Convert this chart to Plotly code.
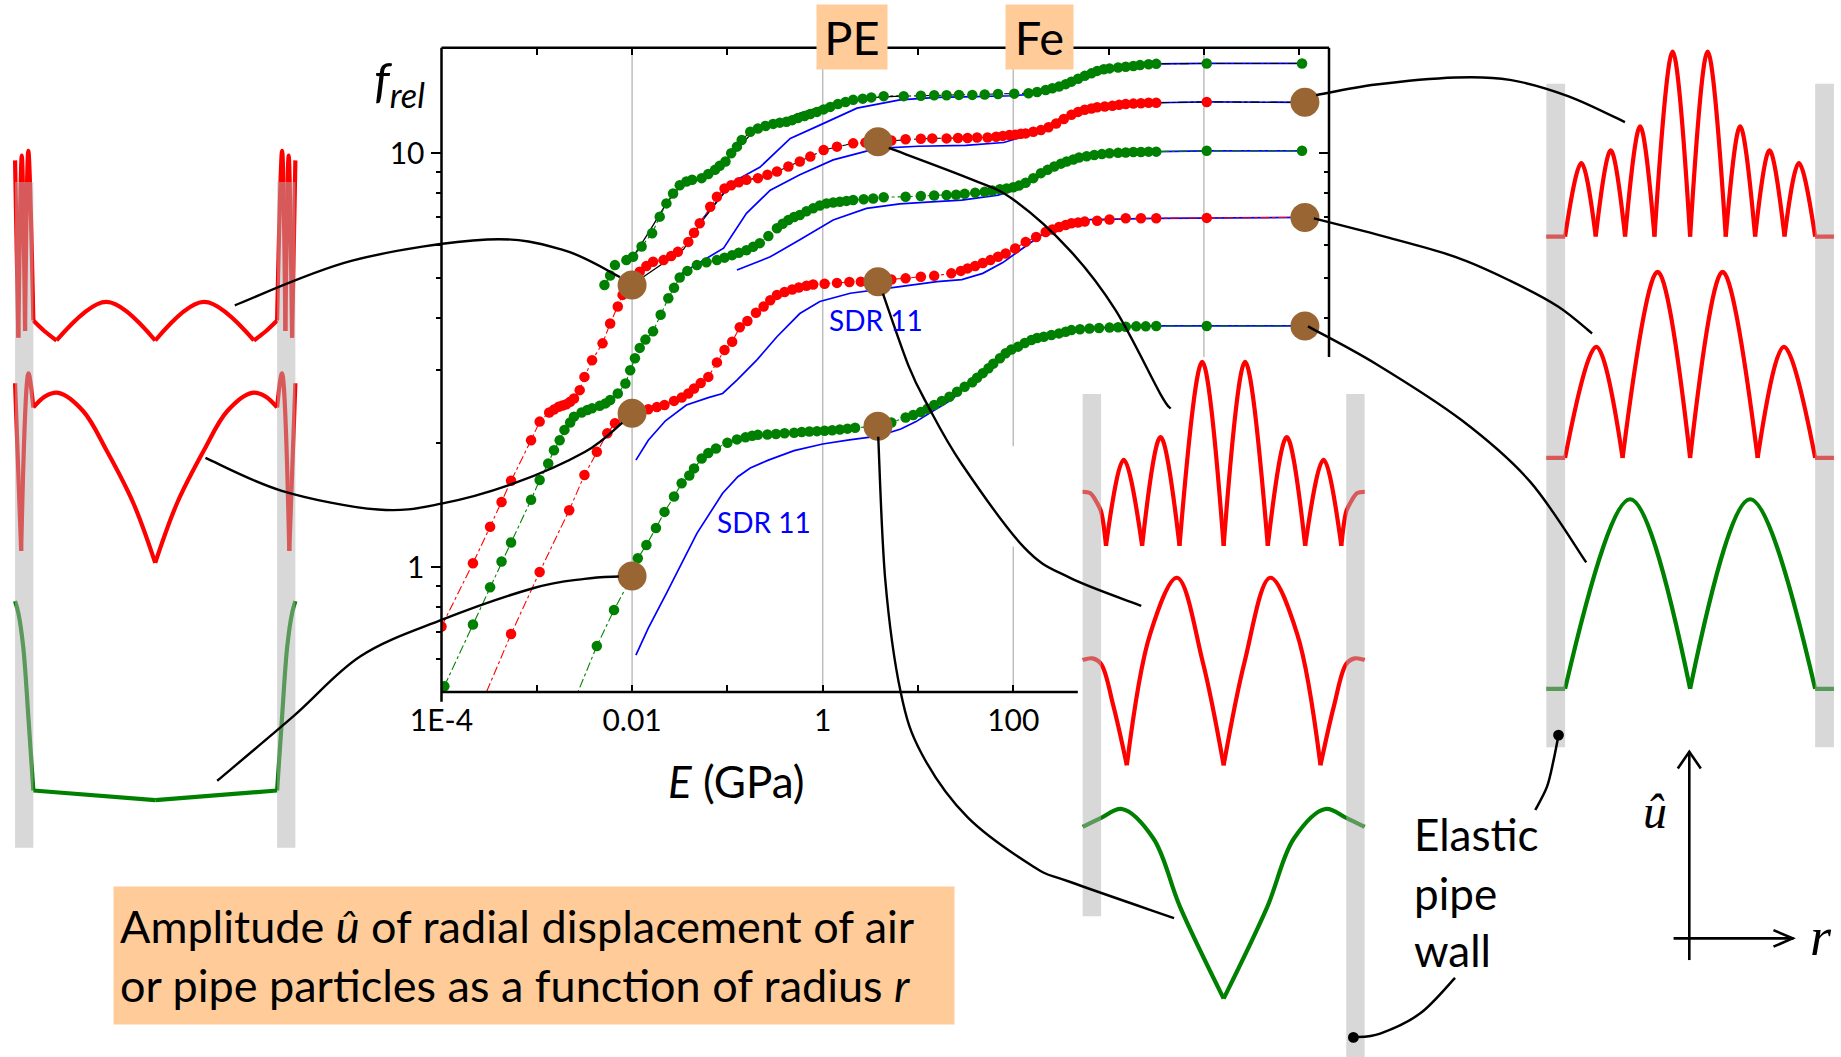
import math
import plotly.graph_objects as go

W, H = 1841, 1057
S = W / 1568.0            # reference preview px -> full px


def PX(xd):               # preview x -> paper
    return xd * S / W


def PY(yd):               # preview y -> paper
    return 1.0 - yd * S / H


def FX(xf):               # full px -> paper
    return xf / W


def FY(yf):
    return 1.0 - yf / H


def clamp(v):
    return min(1.0, max(0.0, v))


# ------------------------------------------------------------------ data
# main chart, pairs are (log10 E [GPa], log10 f_rel)
green_A = [(-2.62, -0.33), (-2.37, -0.19), (-2.19, -0.103), (-2.00, -0.021), (-1.94, 0.022), (-1.85, 0.054),
           (-1.75, 0.095), (-1.66, 0.134), (-1.56, 0.171), (-1.48, 0.203), (-1.40, 0.222), (-1.35, 0.239),
           (-1.27, 0.263), (-1.20, 0.276), (-1.12, 0.287), (-1.00, 0.301), (-0.90, 0.309), (-0.81, 0.314),
           (-0.74, 0.318), (-0.68, 0.320), (-0.58, 0.321), (-0.49, 0.322), (-0.40, 0.324), (-0.30, 0.325),
           (-0.22, 0.327), (-0.14, 0.328), (-0.06, 0.329), (0.02, 0.330), (0.10, 0.331), (0.18, 0.333),
           (0.26, 0.335), (0.34, 0.337), (0.58, 0.341), (0.72, 0.350), (0.87, 0.362), (0.95, 0.368),
           (1.03, 0.375), (1.10, 0.383), (1.17, 0.392), (1.25, 0.402), (1.33, 0.412), (1.41, 0.424),
           (1.49, 0.436), (1.57, 0.447), (1.62, 0.458), (1.68, 0.469), (1.74, 0.481), (1.79, 0.492),
           (1.86, 0.505), (1.92, 0.517), (1.98, 0.526), (2.05, 0.533), (2.12, 0.542), (2.19, 0.549),
           (2.25, 0.554), (2.32, 0.557), (2.40, 0.561), (2.48, 0.565), (2.55, 0.569), (2.61, 0.573),
           (2.70, 0.575), (2.80, 0.577), (2.90, 0.578), (3.01, 0.579), (3.10, 0.580), (3.18, 0.581),
           (3.29, 0.582), (3.39, 0.582), (3.50, 0.583), (4.03, 0.583), (5.03, 0.583)]

red_B = [(-3.60, -0.34), (-3.27, -0.161), (-2.97, -0.011), (-2.66, 0.138), (-2.50, 0.223), (-2.37, 0.279),
         (-2.26, 0.324), (-2.18, 0.348), (-2.09, 0.362), (-2.00, 0.372), (-1.92, 0.377), (-1.83, 0.382),
         (-1.74, 0.387), (-1.66, 0.392), (-1.56, 0.402), (-1.48, 0.410), (-1.41, 0.420), (-1.35, 0.432),
         (-1.28, 0.445), (-1.20, 0.460), (-1.11, 0.495), (-1.03, 0.525), (-0.95, 0.545), (-0.87, 0.580),
         (-0.79, 0.595), (-0.70, 0.615), (-0.62, 0.630), (-0.55, 0.645), (-0.48, 0.658), (-0.40, 0.665),
         (-0.32, 0.671), (-0.25, 0.676), (-0.17, 0.680), (-0.10, 0.683), (0.02, 0.685), (0.15, 0.687),
         (0.28, 0.689), (0.40, 0.690), (0.58, 0.693), (0.72, 0.695), (0.87, 0.698), (1.03, 0.702),
         (1.17, 0.704), (1.35, 0.710), (1.45, 0.716), (1.52, 0.722), (1.60, 0.728), (1.68, 0.735),
         (1.76, 0.742), (1.84, 0.750), (1.92, 0.758), (2.02, 0.770), (2.13, 0.786), (2.24, 0.798),
         (2.34, 0.810), (2.41, 0.816), (2.48, 0.822), (2.55, 0.827), (2.61, 0.831), (2.68, 0.833),
         (2.75, 0.835), (2.88, 0.837), (3.01, 0.840), (3.18, 0.843), (3.34, 0.843), (3.50, 0.843),
         (4.03, 0.844), (5.03, 0.845)]

green_C = [(-3.97, -0.287), (-3.67, -0.138), (-3.49, -0.048), (-3.37, 0.014), (-3.27, 0.060), (-3.06, 0.163),
           (-2.97, 0.211), (-2.88, 0.251), (-2.82, 0.283), (-2.76, 0.307), (-2.71, 0.332), (-2.65, 0.350),
           (-2.61, 0.364), (-2.53, 0.374), (-2.47, 0.380), (-2.42, 0.384), (-2.34, 0.390), (-2.28, 0.396),
           (-2.23, 0.404), (-2.15, 0.420), (-2.07, 0.444), (-2.02, 0.476), (-1.97, 0.505), (-1.92, 0.530),
           (-1.86, 0.550), (-1.78, 0.570), (-1.70, 0.610), (-1.62, 0.650), (-1.56, 0.675), (-1.50, 0.700),
           (-1.42, 0.716), (-1.32, 0.730), (-1.22, 0.737), (-1.11, 0.742), (-1.03, 0.748), (-0.95, 0.754),
           (-0.88, 0.760), (-0.80, 0.766), (-0.73, 0.774), (-0.66, 0.783), (-0.57, 0.800), (-0.48, 0.819),
           (-0.42, 0.830), (-0.36, 0.839), (-0.30, 0.846), (-0.24, 0.851), (-0.17, 0.860), (-0.10, 0.867),
           (-0.03, 0.874), (0.04, 0.879), (0.11, 0.881), (0.18, 0.883), (0.25, 0.885), (0.32, 0.887),
           (0.43, 0.889), (0.53, 0.891), (0.64, 0.894), (0.87, 0.895), (1.03, 0.897), (1.17, 0.898),
           (1.30, 0.899), (1.40, 0.900), (1.49, 0.902), (1.60, 0.905), (1.70, 0.907), (1.78, 0.910),
           (1.86, 0.913), (1.93, 0.915), (2.00, 0.918), (2.06, 0.922), (2.13, 0.929), (2.21, 0.940),
           (2.29, 0.952), (2.36, 0.960), (2.43, 0.968), (2.50, 0.975), (2.56, 0.980), (2.63, 0.985),
           (2.69, 0.990), (2.77, 0.993), (2.85, 0.996), (2.93, 0.998), (3.01, 1.000), (3.10, 1.001),
           (3.18, 1.002), (3.26, 1.003), (3.34, 1.003), (3.42, 1.004), (3.50, 1.004), (4.03, 1.006),
           (5.03, 1.006)]

red_D = [(-4.00, -0.143), (-3.67, 0.010), (-3.49, 0.098), (-3.37, 0.158), (-3.27, 0.209), (-3.06, 0.307),
         (-2.97, 0.352), (-2.87, 0.374), (-2.82, 0.381), (-2.77, 0.388), (-2.73, 0.391), (-2.69, 0.394),
         (-2.65, 0.400), (-2.61, 0.408), (-2.55, 0.428), (-2.50, 0.460), (-2.42, 0.500), (-2.31, 0.541),
         (-2.23, 0.589), (-2.15, 0.630), (-2.10, 0.658), (-2.05, 0.672), (-2.00, 0.682), (-1.92, 0.714),
         (-1.85, 0.728), (-1.78, 0.738), (-1.67, 0.742), (-1.59, 0.752), (-1.52, 0.762), (-1.41, 0.786),
         (-1.35, 0.808), (-1.29, 0.831), (-1.18, 0.871), (-1.11, 0.895), (-1.03, 0.915), (-0.96, 0.923),
         (-0.88, 0.930), (-0.80, 0.936), (-0.68, 0.940), (-0.58, 0.948), (-0.48, 0.956), (-0.36, 0.968),
         (-0.24, 0.980), (-0.13, 0.992), (0.01, 1.008), (0.15, 1.016), (0.32, 1.024), (0.45, 1.026),
         (0.57, 1.028), (0.72, 1.031), (0.87, 1.034), (1.03, 1.035), (1.15, 1.036), (1.30, 1.036),
         (1.42, 1.037), (1.52, 1.037), (1.62, 1.038), (1.73, 1.038), (1.82, 1.040), (1.89, 1.042),
         (1.96, 1.044), (2.02, 1.045), (2.08, 1.047), (2.13, 1.048), (2.21, 1.052), (2.29, 1.056),
         (2.37, 1.063), (2.45, 1.072), (2.53, 1.083), (2.61, 1.093), (2.68, 1.100), (2.75, 1.105),
         (2.82, 1.108), (2.88, 1.111), (2.96, 1.113), (3.04, 1.115), (3.11, 1.117), (3.18, 1.119),
         (3.26, 1.120), (3.34, 1.121), (3.42, 1.122), (3.50, 1.122), (4.03, 1.124), (5.03, 1.123)]

green_E = [(-2.29, 0.682), (-2.23, 0.705), (-2.18, 0.730), (-2.06, 0.742), (-1.99, 0.750), (-1.90, 0.775),
           (-1.79, 0.807), (-1.71, 0.847), (-1.64, 0.879), (-1.57, 0.903), (-1.50, 0.923), (-1.43, 0.932),
           (-1.37, 0.936), (-1.27, 0.940), (-1.20, 0.950), (-1.13, 0.960), (-1.08, 0.970), (-1.02, 0.980),
           (-0.96, 1.000), (-0.90, 1.016), (-0.85, 1.032), (-0.76, 1.052), (-0.68, 1.060), (-0.60, 1.066),
           (-0.52, 1.071), (-0.45, 1.074), (-0.38, 1.076), (-0.32, 1.080), (-0.26, 1.085), (-0.19, 1.090),
           (-0.13, 1.095), (-0.06, 1.100), (0.01, 1.106), (0.08, 1.112), (0.16, 1.119), (0.24, 1.124),
           (0.32, 1.129), (0.42, 1.132), (0.51, 1.135), (0.64, 1.138), (0.85, 1.138), (1.03, 1.139),
           (1.17, 1.140), (1.30, 1.140), (1.43, 1.141), (1.57, 1.141), (1.70, 1.142), (1.84, 1.143),
           (2.01, 1.144), (2.16, 1.145), (2.25, 1.148), (2.34, 1.153), (2.41, 1.157), (2.48, 1.161),
           (2.55, 1.167), (2.61, 1.173), (2.68, 1.180), (2.75, 1.187), (2.82, 1.193), (2.88, 1.199),
           (2.95, 1.203), (3.01, 1.205), (3.10, 1.207), (3.18, 1.209), (3.26, 1.211), (3.33, 1.213),
           (3.42, 1.215), (3.50, 1.216), (4.03, 1.217), (5.03, 1.217)]

# SDR 11 curves (blue)
blue_A = [(-1.96, -0.212), (-1.83, -0.147), (-1.64, -0.063), (-1.48, 0.010), (-1.32, 0.082), (-1.05, 0.179),
          (-0.89, 0.219), (-0.76, 0.240), (-0.57, 0.259), (-0.30, 0.282), (0.00, 0.298), (0.28, 0.308),
          (0.58, 0.317), (0.82, 0.334), (0.98, 0.352), (1.14, 0.375), (1.36, 0.406), (1.54, 0.448),
          (1.73, 0.475), (1.89, 0.509), (2.05, 0.533), (2.27, 0.557), (2.53, 0.569), (2.80, 0.577),
          (3.20, 0.582), (3.50, 0.583), (4.03, 0.583), (5.03, 0.583)]
blue_B = [(-1.96, 0.259), (-1.83, 0.307), (-1.65, 0.354), (-1.43, 0.392), (-1.20, 0.410), (-1.05, 0.420),
          (-0.90, 0.452), (-0.69, 0.501), (-0.48, 0.557), (-0.24, 0.613), (-0.03, 0.642), (0.29, 0.662),
          (0.81, 0.678), (1.20, 0.690), (1.46, 0.695), (1.68, 0.710), (1.89, 0.736), (2.10, 0.770),
          (2.32, 0.807), (2.53, 0.828), (2.80, 0.840), (3.50, 0.843), (4.03, 0.844), (5.03, 0.845)]
blue_C = [(-0.90, 0.718), (-0.55, 0.750), (-0.24, 0.791), (0.11, 0.839), (0.46, 0.867), (0.81, 0.878),
          (1.10, 0.882), (1.46, 0.887), (1.84, 0.899), (2.05, 0.913), (2.27, 0.943), (2.53, 0.975),
          (2.80, 0.993), (3.20, 1.002), (3.50, 1.004), (4.03, 1.006), (5.03, 1.006)]
blue_D = [(-1.48, 0.710), (-1.25, 0.742), (-1.04, 0.771), (-0.80, 0.855), (-0.55, 0.911), (-0.24, 0.948),
          (0.11, 0.984), (0.57, 1.012), (1.00, 1.017), (1.50, 1.019), (1.90, 1.026), (2.10, 1.040),
          (2.30, 1.060), (2.50, 1.085), (2.70, 1.103), (3.00, 1.115), (3.50, 1.122), (4.03, 1.124),
          (5.03, 1.123)]
blue_E = [(-1.27, 0.839), (-0.94, 0.931), (-0.66, 0.966), (-0.34, 1.036), (-0.03, 1.068), (0.36, 1.109),
          (0.81, 1.129), (1.20, 1.135), (1.60, 1.137), (2.00, 1.139), (2.20, 1.143), (2.40, 1.155),
          (2.60, 1.172), (2.80, 1.190), (3.00, 1.203), (3.30, 1.212), (3.50, 1.216), (4.03, 1.217),
          (5.03, 1.217)]

# thin black solid tracks
black_E = [(-1.99, 0.750), (-1.83, 0.807), (-1.64, 0.879), (-1.50, 0.919), (-1.39, 0.928), (-1.25, 0.940),
           (-1.08, 0.968), (-0.94, 1.000), (-0.73, 1.052), (-0.52, 1.072), (-0.24, 1.097), (0.11, 1.121),
           (0.46, 1.134), (0.81, 1.138)]
black_D = [(-2.00, 0.682), (-1.88, 0.702), (-1.46, 0.768), (-1.25, 0.841), (-1.03, 0.907), (-0.90, 0.928),
           (-0.66, 0.943)]

# highlighted states (brown dots)
brown_logE = [-2.00, -2.00, -2.00, 0.58, 0.58, 0.58, 5.06, 5.06, 5.06]
brown_logF = [0.682, 0.372, -0.021, 1.028, 0.690, 0.341, 1.123, 0.845, 0.583]

x_tick_vals = [1e-4, 1e-3, 1e-2, 1e-1, 1, 10, 100]
x_tick_text = ['1E-4', ' ', '0.01', ' ', '1', ' ', '100']
x_top_ticks = [1e-3, 1e-2, 1e-1, 1, 10, 100, 1e3, 1e4, 1e5]
y_tick_vals = [1, 10]
y_tick_text = ['1', '10']
y_minor_vals = [0.6, 0.7, 0.8, 0.9, 2, 3, 4, 5, 6, 7, 8, 9]
y_right_minor = [4, 5, 6, 7, 8, 9]

# mode shapes |u(r)|: segments of (r / inner radius, normalised amplitude)
L1_red = [[(-1.15, 0.95), (-1.123, 0.015)], [(-1.123, 0.015), (-1.095, 0.975), (-1.068, 0.05)],
          [(-1.068, 0.05), (-1.041, 1.0), (-1.0, 0.105)], [(-1.0, 0.105), (-0.91, 0.05), (-0.81, 0.0)],
          [(-0.81, 0.0), (-0.40, 0.204), (0.0, 0.0)], [(0.0, 0.0), (0.40, 0.204), (0.81, 0.0)],
          [(0.81, 0.0), (0.91, 0.05), (1.0, 0.105)], [(1.0, 0.105), (1.041, 1.0), (1.068, 0.05)],
          [(1.068, 0.05), (1.095, 0.975), (1.123, 0.015)], [(1.123, 0.015), (1.15, 0.95)]]
L2_red = [[(-1.15, 0.948), (-1.10, 0.063)], [(-1.10, 0.063), (-1.04, 1.0), (-1.0, 0.82)],
          [(-1.0, 0.82), (-0.90, 0.88), (-0.794, 0.897), (-0.59, 0.80), (-0.40, 0.594), (-0.18, 0.316), (0.0, 0.0)],
          [(0.0, 0.0), (0.18, 0.316), (0.40, 0.594), (0.59, 0.80), (0.794, 0.897), (0.90, 0.88), (1.0, 0.82)],
          [(1.0, 0.82), (1.04, 1.0), (1.10, 0.063)], [(1.10, 0.063), (1.15, 0.948)]]
L3_green = [[(-1.15, 1.0), (-1.123, 0.94), (-1.083, 0.77), (-1.04, 0.41), (-1.0, 0.048)],
            [(-1.0, 0.048), (0.0, 0.0)], [(0.0, 0.0), (1.0, 0.048)],
            [(1.0, 0.048), (1.04, 0.41), (1.083, 0.77), (1.123, 0.94), (1.15, 1.0)]]
C1_red = [[(-1.15, 0.294), (-1.09, 0.287), (-1.035, 0.236), (-1.0, 0.186), (-0.96, 0.0)],
          [(-0.96, 0.0), (-0.815, 0.468), (-0.665, 0.0)], [(-0.665, 0.0), (-0.515, 0.592), (-0.36, 0.0)],
          [(-0.36, 0.0), (-0.175, 1.0), (0.0, 0.0)], [(0.0, 0.0), (0.175, 1.0), (0.36, 0.0)],
          [(0.36, 0.0), (0.515, 0.592), (0.665, 0.0)], [(0.665, 0.0), (0.815, 0.468), (0.96, 0.0)],
          [(0.96, 0.0), (1.0, 0.186), (1.035, 0.236), (1.09, 0.287), (1.15, 0.294)]]
C2_red = [[(-1.15, 0.561), (-1.07, 0.57), (-1.0, 0.54), (-0.90, 0.317), (-0.79, 0.0)],
          [(-0.79, 0.0), (-0.60, 0.70), (-0.38, 1.0), (-0.17, 0.55), (0.0, 0.0)],
          [(0.0, 0.0), (0.17, 0.55), (0.38, 1.0), (0.60, 0.70), (0.79, 0.0)],
          [(0.79, 0.0), (0.90, 0.317), (1.0, 0.54), (1.07, 0.57), (1.15, 0.561)]]
C3_green = [[(-1.15, 0.905), (-1.0, 0.953), (-0.83, 1.0), (-0.573, 0.844), (-0.355, 0.482), (0.0, 0.0)],
            [(0.0, 0.0), (0.355, 0.482), (0.573, 0.844), (0.83, 1.0), (1.0, 0.953), (1.15, 0.905)]]
R1_red = [[(-1.15, 0.0), (-1.0, 0.0)], [(-1.0, 0.0), (-0.87, 0.397), (-0.755, 0.0)],
          [(-0.755, 0.0), (-0.635, 0.466), (-0.52, 0.0)], [(-0.52, 0.0), (-0.40, 0.596), (-0.285, 0.0)],
          [(-0.285, 0.0), (-0.14, 1.0), (0.0, 0.0)], [(0.0, 0.0), (0.14, 1.0), (0.285, 0.0)],
          [(0.285, 0.0), (0.40, 0.596), (0.52, 0.0)], [(0.52, 0.0), (0.635, 0.466), (0.755, 0.0)],
          [(0.755, 0.0), (0.87, 0.397), (1.0, 0.0)], [(1.0, 0.0), (1.15, 0.0)]]
R2_red = [[(-1.15, 0.0), (-1.0, 0.0)], [(-1.0, 0.0), (-0.75, 0.597), (-0.54, 0.0)],
          [(-0.54, 0.0), (-0.26, 1.0), (0.0, 0.0)], [(0.0, 0.0), (0.26, 1.0), (0.54, 0.0)],
          [(0.54, 0.0), (0.75, 0.597), (1.0, 0.0)], [(1.0, 0.0), (1.15, 0.0)]]
R3_green = [[(-1.15, 0.0), (-1.0, 0.0)], [(-1.0, 0.0), (-0.48, 1.0), (0.0, 0.0)],
            [(0.0, 0.0), (0.48, 1.0), (1.0, 0.0)], [(1.0, 0.0), (1.15, 0.0)]]

# ------------------------------------------------------------------ styles / layout numbers
GREEN, RED, BLUE, BROWN = '#008000', '#FF0000', '#0000FF', '#996633'
PEACH = '#FFCC99'
X_LEFT, X_RIGHT, Y_TOP, Y_BOT = 441.5, 1329.0, 47.7, 692.0     # main frame, full px
LOGX = [-4.0, 5.313]
LOGY = [-0.301, 1.255]

fig = go.Figure()


def lin(pts):
    return [10 ** p[0] for p in pts], [10 ** p[1] for p in pts]


def add_line(pts, color, width=1.1, dash='dashdot'):
    x, y = lin(pts)
    fig.add_trace(go.Scatter(x=x, y=y, mode='lines', line=dict(color=color, width=width, dash=dash),
                             hoverinfo='skip', showlegend=False))


def add_dots(pts, color, size=10.5):
    x, y = lin(pts)
    fig.add_trace(go.Scatter(x=x, y=y, mode='markers', marker=dict(color=color, size=size, line=dict(width=0)),
                             hoverinfo='skip', showlegend=False))


for b in (blue_A, blue_B, blue_C, blue_D, blue_E):
    add_line(b, BLUE, width=1.7, dash='solid')
add_line(black_E, 'black', width=1.3, dash='solid')
add_line(black_D, 'black', width=1.3, dash='solid')

add_line(green_A, GREEN)
add_line(red_B, RED)
add_line(green_C, GREEN)
add_line([p for p in red_D if p[0] <= -1.03], RED)
add_line([p for p in red_D if p[0] >= -1.03], 'black')
add_line([p for p in green_E if p[0] <= -1.0], GREEN)
add_line([p for p in green_E if p[0] >= -1.0], 'black')
for s, c in ((green_A, GREEN), (red_B, RED), (green_C, GREEN), (red_D, RED), (green_E, GREEN)):
    add_dots(s, c)

fig.add_trace(go.Scatter(x=[10 ** v for v in brown_logE], y=[10 ** v for v in brown_logF], mode='markers',
                         marker=dict(color=BROWN, size=29, line=dict(width=0)), hoverinfo='skip',
                         showlegend=False))
# carrier for the mirrored top/right tick axes
fig.add_trace(go.Scatter(x=[1], y=[1], xaxis='x2', yaxis='y2', mode='markers', opacity=0,
                         hoverinfo='skip', showlegend=False))

# ------------------------------------------------------------------ mode-shape insets
columns = {'L': (132.2, 103.8), 'C': (1042.2, 104.4), 'R': (1439.5, 106.5)}   # centre, inner radius (preview px)
modes = [('L', 290.0, 128.5, RED, L1_red), ('L', 479.4, 318.0, RED, L2_red), ('L', 681.4, 512.0, GREEN, L3_green),
         ('C', 464.9, 308.3, RED, C1_red), ('C', 651.8, 492.1, RED, C2_red), ('C', 850.5, 689.0, GREEN, C3_green),
         ('R', 201.5, 43.9, RED, R1_red), ('R', 390.0, 231.6, RED, R2_red), ('R', 586.7, 425.2, GREEN, R3_green)]
XR = [-1.2, 1.2]
YR = [-0.12, 1.12]
layout_axes = {}
col_axis = {}
for i, (col, base, top, color, segs) in enumerate(modes):
    k = i + 3
    cx, hw = columns[col]
    hgt = base - top
    layout_axes['xaxis%d' % k] = dict(domain=[clamp(PX(cx + XR[0] * hw)), clamp(PX(cx + XR[1] * hw))], range=XR,
                                      visible=False, anchor='y%d' % k, fixedrange=True, automargin=False)
    layout_axes['yaxis%d' % k] = dict(domain=[clamp(PY(base - YR[0] * hgt)), clamp(PY(base - YR[1] * hgt))],
                                      range=YR, visible=False, anchor='x%d' % k, fixedrange=True, automargin=False)
    col_axis.setdefault(col, 'x%d' % k)
    xs, ys = [], []
    for seg in segs:
        xs += [p[0] for p in seg] + [None]
        ys += [p[1] for p in seg] + [None]
    fig.add_trace(go.Scatter(x=xs, y=ys, xaxis='x%d' % k, yaxis='y%d' % k, mode='lines',
                             line=dict(color=color, width=4.2, shape='spline', smoothing=1.0),
                             connectgaps=False, hoverinfo='skip', showlegend=False))

# ------------------------------------------------------------------ shapes
shapes = []


def xdom(v):
    return (math.log10(v) - LOGX[0]) / (LOGX[1] - LOGX[0])


def ydom_prev(yd):
    return (Y_BOT - yd * S) / (Y_BOT - Y_TOP)


def xdom_prev(xd):
    return (xd * S - X_LEFT) / (X_RIGHT - X_LEFT)


GRID = 'rgb(190,190,190)'
for v, spans in ((1e-2, [(0, 1)]), (1, [(0, 1)]),
                 (100, [(0, ydom_prev(465.6)), (ydom_prev(380), 1)]),
                 (1e4, [(ydom_prev(304), 1)])):
    for a, b in spans:
        shapes.append(dict(type='line', xref='x domain', yref='y domain', x0=xdom(v), x1=xdom(v), y0=a, y1=b,
                           line=dict(color=GRID, width=1.5), layer='below'))

AX = dict(color='black', width=2.5)
shapes += [dict(type='line', xref='x domain', yref='y domain', x0=0, x1=0, y0=-0.015, y1=1, line=AX, layer='above'),
           dict(type='line', xref='x domain', yref='y domain', x0=0, x1=1, y0=1, y1=1, line=AX, layer='above'),
           dict(type='line', xref='x domain', yref='y domain', x0=1, x1=1, y0=ydom_prev(304), y1=1, line=AX,
                layer='above'),
           dict(type='line', xref='x domain', yref='y domain', x0=0, x1=xdom_prev(918), y0=0, y1=0, line=AX,
                layer='above')]

# pipe walls (semi-transparent grey, drawn over the curves)
walls = {'L': [(155, 722), (155, 722)], 'C': [(335.6, 780.4), (335.6, 900.5)], 'R': [(71.3, 636.4), (71.3, 636.4)]}
for col, ((t1, b1), (t2, b2)) in walls.items():
    ax = col_axis[col]
    for (x0, x1), (t, b) in (((-1.15, -1.0), (t1, b1)), ((1.0, 1.15), (t2, b2))):
        shapes.append(dict(type='rect', xref=ax, yref='paper', x0=x0, x1=x1, y0=clamp(PY(b)), y1=clamp(PY(t)),
                           fillcolor='rgb(178,178,178)', opacity=0.5, line=dict(width=0), layer='above'))


def smooth_path(pts):
    P = [(PX(x), PY(y)) for x, y in pts]
    d = 'M%.5f,%.5f' % P[0]
    n = len(P)
    for i in range(n - 1):
        p0 = P[i - 1] if i > 0 else P[i]
        p1, p2 = P[i], P[i + 1]
        p3 = P[i + 2] if i + 2 < n else P[i + 1]
        c1 = (p1[0] + (p2[0] - p0[0]) / 6, p1[1] + (p2[1] - p0[1]) / 6)
        c2 = (p2[0] - (p3[0] - p1[0]) / 6, p2[1] - (p3[1] - p1[1]) / 6)
        d += ' C%.5f,%.5f %.5f,%.5f %.5f,%.5f' % (c1 + c2 + p2)
    return d


connectors = [
    [(200, 260), (300, 222), (415, 204), (480, 213), (528, 236)],
    [(175, 390), (240, 418), (322, 434), (376, 429), (437, 412), (498, 385), (530, 360)],
    [(185, 665), (250, 610), (307, 559), (376, 528), (454, 501), (498, 493), (527, 491)],
    [(757, 126), (828, 153), (863, 170), (911, 213), (950, 264), (988, 335), (997, 348)],
    [(752, 250), (774, 312), (790, 345), (819, 395), (872, 466), (911, 492), (972, 516)],
    [(748, 372), (754, 494), (767, 589), (785, 642), (824, 696), (880, 738), (911, 751), (1000, 782)],
    [(1121, 81), (1172, 72), (1240, 66), (1286, 68), (1336, 82), (1384, 104)],
    [(1119, 186), (1181, 202), (1240, 219), (1286, 239), (1327, 261), (1356, 284)],
    [(1114, 278), (1172, 310), (1245, 358), (1303, 410), (1351, 479)],
]
for c in connectors:
    shapes.append(dict(type='path', xref='paper', yref='paper', path=smooth_path(c),
                       line=dict(color='black', width=2.4), layer='above'))

wall_pointers = [[(1307.6, 689.9), (1317.6, 670), (1323.2, 647.4), (1327.4, 626.1)],
                 [(1239.3, 832.9), (1209.7, 863.1), (1175.5, 880.3), (1152.7, 883.6)]]
for c in wall_pointers:
    shapes.append(dict(type='path', xref='paper', yref='paper', path=smooth_path(c),
                       line=dict(color='black', width=2.5), layer='above'))
    cx, cy = c[-1]
    shapes.append(dict(type='circle', xref='paper', yref='paper', x0=PX(cx - 4.6), x1=PX(cx + 4.6),
                       y0=PY(cy + 4.6), y1=PY(cy - 4.6), fillcolor='black', line=dict(width=0), layer='above'))

# small u-r axes sketch
ARW = dict(color='black', width=2.6)
shapes += [dict(type='line', xref='paper', yref='paper', x0=PX(1438.8), x1=PX(1438.8), y0=PY(817.7),
                y1=PY(640.3), line=ARW, layer='above'),
           dict(type='line', xref='paper', yref='paper', x0=PX(1425.4), x1=PX(1527.6), y0=PY(799.2),
                y1=PY(799.2), line=ARW, layer='above'),
           dict(type='path', xref='paper', yref='paper', line=ARW, layer='above',
                path='M%.5f,%.5f L%.5f,%.5f L%.5f,%.5f' % (PX(1429), PY(654.5), PX(1438.8), PY(640.3),
                                                          PX(1448.6), PY(654.5))),
           dict(type='path', xref='paper', yref='paper', line=ARW, layer='above',
                path='M%.5f,%.5f L%.5f,%.5f L%.5f,%.5f' % (PX(1510.5), PY(792.2), PX(1526.8), PY(799.2),
                                                          PX(1510.5), PY(806.3)))]

# ------------------------------------------------------------------ annotations
FONT = 'Lato'
ann = []


def txt(x, y, s, size, color='black', family=FONT, xanchor='center', yanchor='middle', **kw):
    d = dict(x=x, y=y, xref='paper', yref='paper', text=s, showarrow=False,
             font=dict(size=size, color=color, family=family), xanchor=xanchor, yanchor=yanchor)
    d.update(kw)
    ann.append(d)


txt(FX(851.5), FY(37), 'PE', 47, bgcolor=PEACH, width=70, height=64, borderpad=0)
txt(FX(1039), FY(37), 'Fe', 47, bgcolor=PEACH, width=67, height=64, borderpad=0)
txt(FX(399), FY(82), '<i>f</i><sub><i>rel</i></sub>', 49)
txt(FX(736), FY(781), '<i>E</i> (GPa)', 44)
txt(FX(876), FY(320), 'SDR 11', 28, color=BLUE)
txt(FX(764), FY(522), 'SDR 11', 28, color=BLUE)
txt(FX(534), FY(955), 'Amplitude <i>û</i> of radial displacement of air<br>or pipe particles as a function of radius <i>r</i>',
    45, bgcolor=PEACH, width=828, height=125, borderpad=6, align='left')
txt(FX(1412), FY(834), 'Elastic', 44, xanchor='left')
txt(FX(1412), FY(893), 'pipe', 44, xanchor='left')
txt(FX(1412), FY(950), 'wall', 44, xanchor='left')
txt(PX(1409.5), PY(691), '<i>û</i>', 48, family='Liberation Serif')
txt(PX(1551), PY(798), '<i>r</i>', 54, family='Liberation Serif')

# ------------------------------------------------------------------ layout
tickfont = dict(size=30, color='black', family=FONT)
fig.update_layout(
    width=W, height=H, autosize=False, margin=dict(l=0, r=0, t=0, b=0, pad=0, autoexpand=False),
    paper_bgcolor='white', plot_bgcolor='rgba(0,0,0,0)', showlegend=False,
    font=dict(family=FONT, color='black'),
    xaxis=dict(type='log', range=LOGX, domain=[FX(X_LEFT), FX(X_RIGHT)], anchor='y', automargin=False,
               showgrid=False, zeroline=False, showline=False, ticks='inside', ticklen=7, tickwidth=1.8,
               tickcolor='black', tickmode='array', tickvals=x_tick_vals, ticktext=x_tick_text,
               tickfont=tickfont, ticklabelstandoff=8, fixedrange=True),
    xaxis2=dict(type='log', range=LOGX, overlaying='x', side='top', anchor='y', showgrid=False, automargin=False,
                zeroline=False, showline=False, ticks='inside', ticklen=7, tickwidth=1.8, tickcolor='black',
                tickmode='array', tickvals=x_top_ticks, showticklabels=False, fixedrange=True),
    yaxis=dict(type='log', range=LOGY, domain=[FY(Y_BOT), FY(Y_TOP)], anchor='x', showgrid=False, automargin=False,
               zeroline=False, showline=False, ticks='outside', ticklen=10, tickwidth=1.8, tickcolor='black',
               tickmode='array', tickvals=y_tick_vals, ticktext=y_tick_text, tickfont=tickfont,
               minor=dict(tickmode='array', tickvals=y_minor_vals, ticks='outside', ticklen=5, tickwidth=1.8,
                          tickcolor='black', showgrid=False), fixedrange=True),
    yaxis2=dict(type='log', range=LOGY, overlaying='y', side='right', anchor='x', showgrid=False, automargin=False,
                zeroline=False, showline=False, ticks='inside', ticklen=10, tickwidth=1.8, tickcolor='black',
                tickmode='array', tickvals=[10], showticklabels=False,
                minor=dict(tickmode='array', tickvals=y_right_minor, ticks='inside', ticklen=5, tickwidth=1.8,
                           tickcolor='black', showgrid=False), fixedrange=True),
    shapes=shapes, annotations=ann,
)
fig.update_layout(**layout_axes)

fig.write_html('out.html', config={'displayModeBar': False})
